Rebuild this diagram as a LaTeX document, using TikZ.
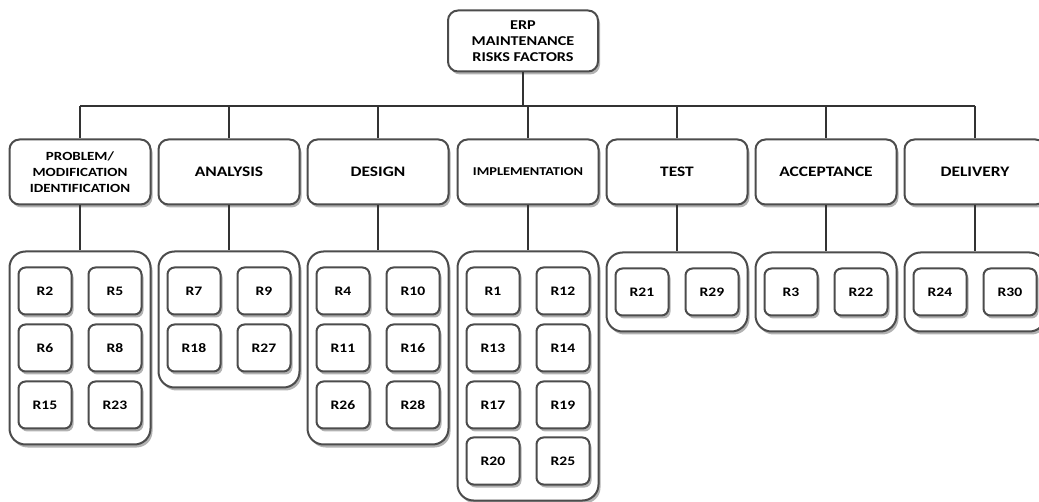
\documentclass[tikz,border=0pt]{standalone}
\usepackage{fontspec}
\newfontfamily\labelfont{Carlito}[FakeStretch=1.2]
\usetikzlibrary{shadows,fit,backgrounds}

\tikzset{
  box/.style={draw=black!70,line width=2pt,fill=white,rounded corners=10pt,
    drop shadow={shadow xshift=2pt,shadow yshift=-3pt,fill=black!60},
    align=center,inner sep=0pt,font=\labelfont\bfseries},
  rootbox/.style={box,minimum width=150pt,minimum height=61pt,
    font=\labelfont\bfseries\fontsize{13.5}{16}\selectfont},
  phasebox/.style={box,minimum width=141pt,minimum height=65pt,
    font=\labelfont\bfseries\fontsize{14.5}{16}\selectfont},
  riskbox/.style={box,rounded corners=7pt,minimum width=53pt,minimum height=47pt,
    font=\labelfont\bfseries\fontsize{13}{14}\selectfont},
  groupbox/.style={box,rounded corners=16pt,inner xsep=8pt,inner ysep=15pt},
  link/.style={draw=black!80,line width=1.3pt}
}

\begin{document}
\begin{tikzpicture}[x=1pt,y=-1pt]
    \useasboundingbox (0,0) rectangle (1039,502);
    % root
    \node[rootbox] (erp) at (523,41) {ERP\\MAINTENANCE\\RISKS FACTORS};

    % phases
    \node[phasebox,font=\labelfont\bfseries\fontsize{12.5}{16}\selectfont] (ident) at (80,172)
        {PROBLEM/\\MODIFICATION\\IDENTIFICATION};
    \node[phasebox] (analysis) at (229,172) {ANALYSIS};
    \node[phasebox] (design) at (378,172) {DESIGN};
    \node[phasebox,font=\labelfont\bfseries\fontsize{12}{14}\selectfont] (implem) at (528,172) {IMPLEMENTATION};
    \node[phasebox] (test) at (677,172) {TEST};
    \node[phasebox] (accept) at (826,172) {ACCEPTANCE};
    \node[phasebox] (deliv) at (975,172) {DELIVERY};

    % risks
    \node[riskbox] (r2) at (45,291) {R2};
    \node[riskbox] (r5) at (115,291) {R5};
    \node[riskbox] (r6) at (45,348) {R6};
    \node[riskbox] (r8) at (115,348) {R8};
    \node[riskbox] (r15) at (45,405) {R15};
    \node[riskbox] (r23) at (115,405) {R23};

    \node[riskbox] (r7) at (194,291) {R7};
    \node[riskbox] (r9) at (264,291) {R9};
    \node[riskbox] (r18) at (194,348) {R18};
    \node[riskbox] (r27) at (264,348) {R27};

    \node[riskbox] (r4) at (343,291) {R4};
    \node[riskbox] (r10) at (413,291) {R10};
    \node[riskbox] (r11) at (343,348) {R11};
    \node[riskbox] (r16) at (413,348) {R16};
    \node[riskbox] (r26) at (343,405) {R26};
    \node[riskbox] (r28) at (413,405) {R28};

    \node[riskbox] (r1) at (493,291) {R1};
    \node[riskbox] (r12) at (563,291) {R12};
    \node[riskbox] (r13) at (493,348) {R13};
    \node[riskbox] (r14) at (563,348) {R14};
    \node[riskbox] (r17) at (493,405) {R17};
    \node[riskbox] (r19) at (563,405) {R19};
    \node[riskbox] (r20) at (493,461) {R20};
    \node[riskbox] (r25) at (563,461) {R25};

    \node[riskbox] (r21) at (642,292) {R21};
    \node[riskbox] (r29) at (712,292) {R29};

    \node[riskbox] (r3) at (791,292) {R3};
    \node[riskbox] (r22) at (861,292) {R22};

    \node[riskbox] (r24) at (940,292) {R24};
    \node[riskbox] (r30) at (1010,292) {R30};

    % groups
    \begin{scope}[on background layer]
        \node[groupbox,fit=(r2)(r23)] (identrisks) {};
        \node[groupbox,fit=(r7)(r27)] (analysisrisks) {};
        \node[groupbox,fit=(r4)(r28)] (designrisks) {};
        \node[groupbox,fit=(r1)(r25)] (implemrisks) {};
        \node[groupbox,fit=(r21)(r29)] (testrisks) {};
        \node[groupbox,fit=(r3)(r22)] (acceptrisks) {};
        \node[groupbox,fit=(r24)(r30)] (delivrisks) {};
    \end{scope}

    % connectors
    \coordinate (busleft) at (80,106);
    \coordinate (busright) at (975,106);
    \draw[link] (busleft) -- (busright);
    \draw[link] (erp.south) -- (erp.south |- busleft);
    \foreach \phase in {ident,analysis,design,implem,test,accept,deliv}{
        \draw[link] (\phase.north |- busleft) -- (\phase.north);
        \draw[link] (\phase.south) -- (\phase risks.north);
    }
\end{tikzpicture}
\end{document}
